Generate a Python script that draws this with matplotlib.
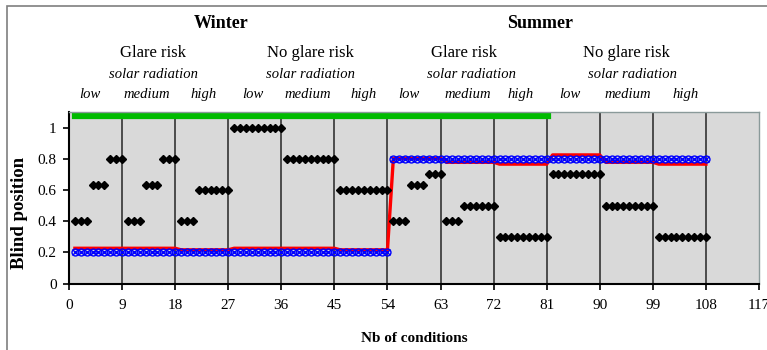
# Blind position per condition - winter / summer, glare / no glare, solar radiation levels

import numpy as np

import matplotlib
matplotlib.use('Agg')
matplotlib.rcParams['font.family'] = 'Liberation Serif'
import matplotlib.pyplot as plt
from matplotlib.patches import Rectangle
from matplotlib.transforms import blended_transform_factory

# condition number 1..108
conditions = np.arange(1, 109)

# measured blind positions (black diamonds), 9 conditions per row
measured = [
    0.4, 0.4, 0.4, 0.63, 0.63, 0.63, 0.8, 0.8, 0.8,
    0.4, 0.4, 0.4, 0.63, 0.63, 0.63, 0.8, 0.8, 0.8,
    0.4, 0.4, 0.4, 0.6, 0.6, 0.6, 0.6, 0.6, 0.6,
    1.0, 1.0, 1.0, 1.0, 1.0, 1.0, 1.0, 1.0, 1.0,
    0.8, 0.8, 0.8, 0.8, 0.8, 0.8, 0.8, 0.8, 0.8,
    0.6, 0.6, 0.6, 0.6, 0.6, 0.6, 0.6, 0.6, 0.6,
    0.4, 0.4, 0.4, 0.63, 0.63, 0.63, 0.7, 0.7, 0.7,
    0.4, 0.4, 0.4, 0.5, 0.5, 0.5, 0.5, 0.5, 0.5,
    0.3, 0.3, 0.3, 0.3, 0.3, 0.3, 0.3, 0.3, 0.3,
    0.7, 0.7, 0.7, 0.7, 0.7, 0.7, 0.7, 0.7, 0.7,
    0.5, 0.5, 0.5, 0.5, 0.5, 0.5, 0.5, 0.5, 0.5,
    0.3, 0.3, 0.3, 0.3, 0.3, 0.3, 0.3, 0.3, 0.3,
]

# blue x-circles
target = [
    0.2, 0.2, 0.2, 0.2, 0.2, 0.2, 0.2, 0.2, 0.2,
    0.2, 0.2, 0.2, 0.2, 0.2, 0.2, 0.2, 0.2, 0.2,
    0.2, 0.2, 0.2, 0.2, 0.2, 0.2, 0.2, 0.2, 0.2,
    0.2, 0.2, 0.2, 0.2, 0.2, 0.2, 0.2, 0.2, 0.2,
    0.2, 0.2, 0.2, 0.2, 0.2, 0.2, 0.2, 0.2, 0.2,
    0.2, 0.2, 0.2, 0.2, 0.2, 0.2, 0.2, 0.2, 0.2,
    0.8, 0.8, 0.8, 0.8, 0.8, 0.8, 0.8, 0.8, 0.8,
    0.8, 0.8, 0.8, 0.8, 0.8, 0.8, 0.8, 0.8, 0.8,
    0.8, 0.8, 0.8, 0.8, 0.8, 0.8, 0.8, 0.8, 0.8,
    0.8, 0.8, 0.8, 0.8, 0.8, 0.8, 0.8, 0.8, 0.8,
    0.8, 0.8, 0.8, 0.8, 0.8, 0.8, 0.8, 0.8, 0.8,
    0.8, 0.8, 0.8, 0.8, 0.8, 0.8, 0.8, 0.8, 0.8,
]

# red line
model = [
    0.227, 0.227, 0.227, 0.227, 0.227, 0.227, 0.227, 0.227, 0.227,
    0.227, 0.227, 0.227, 0.227, 0.227, 0.227, 0.227, 0.227, 0.227,
    0.217, 0.217, 0.217, 0.217, 0.217, 0.217, 0.217, 0.217, 0.217,
    0.227, 0.227, 0.227, 0.227, 0.227, 0.227, 0.227, 0.227, 0.227,
    0.227, 0.227, 0.227, 0.227, 0.227, 0.227, 0.227, 0.227, 0.227,
    0.217, 0.217, 0.217, 0.217, 0.217, 0.217, 0.217, 0.217, 0.217,
    0.803, 0.803, 0.803, 0.803, 0.803, 0.803, 0.803, 0.803, 0.803,
    0.778, 0.778, 0.778, 0.778, 0.778, 0.778, 0.778, 0.778, 0.778,
    0.766, 0.766, 0.766, 0.766, 0.766, 0.766, 0.766, 0.766, 0.766,
    0.825, 0.825, 0.825, 0.825, 0.825, 0.825, 0.825, 0.825, 0.825,
    0.778, 0.778, 0.778, 0.778, 0.778, 0.778, 0.778, 0.778, 0.778,
    0.766, 0.766, 0.766, 0.766, 0.766, 0.766, 0.766, 0.766, 0.766,
]

# green bar (glare risk period), conditions
green_span = [1, 81]
green_level = 1.078

xticks = list(range(0, 118, 9))
yticks = [0, 0.2, 0.4, 0.6, 0.8, 1]
ytick_labels = ['0', '0.2', '0.4', '0.6', '0.8', '1']
separators = list(range(9, 117, 9))

seasons = ['Winter', 'Summer']
season_x = [25.8, 79.8]
risks = ['Glare risk', 'No glare risk', 'Glare risk', 'No glare risk']
risk_x = [14.3, 41.0, 66.9, 94.6]
radiation_x = [14.3, 41.0, 68.2, 95.6]
levels = ['low', 'medium', 'high'] * 4
level_x = [3.6, 13.2, 22.9, 31.1, 40.5, 50.0, 57.6, 67.6, 76.6, 85.0, 94.7, 104.6]

fig = plt.figure(figsize=(7.67, 3.5), dpi=100)

# outer frame of the chart (only left and top edges fall inside the picture)
top = 1 - 6/350
fig.patches.append(Rectangle((7/767, -0.2), 1.2, top + 0.2, transform=fig.transFigure,
                             fill=False, edgecolor='#7f7f7f', linewidth=1.2))

ax = fig.add_axes([69/767, 66.3/350, 690/767, 171.7/350])
ax.set_facecolor('#d9d9d9')
ax.set_xlim(0, 117)
ax.set_ylim(0, 1.1)

ax.vlines(separators, 0, 1.1, color='#262626', linewidth=1.1, zorder=1)
ax.plot(green_span, [green_level, green_level], color='#00bb00', linewidth=5.2,
        solid_capstyle='projecting', zorder=2)

ax.plot(conditions, model, color='red', linewidth=2.4, zorder=3)
ax.plot(conditions, target, linestyle='none', marker='o', markersize=5, markerfacecolor='none',
        markeredgecolor='#0000ff', markeredgewidth=1.0, zorder=4)
ax.plot(conditions, target, linestyle='none', marker='x', markersize=5,
        markeredgecolor='#0000ff', markeredgewidth=1.0, zorder=4)
ax.plot(conditions, measured, linestyle='none', marker='D', markersize=4.5, color='black', zorder=5)

ax.set_xticks(xticks)
ax.set_yticks(yticks)
ax.set_yticklabels(ytick_labels)
ax.tick_params(axis='x', direction='out', length=4, width=1.2, pad=7, labelsize=11)
ax.tick_params(axis='y', direction='out', length=4, width=1.2, pad=5, labelsize=11)

for side in ['left', 'bottom']:
    ax.spines[side].set_linewidth(1.5)
    ax.spines[side].set_color('black')
for side in ['top', 'right']:
    ax.spines[side].set_linewidth(1.0)
    ax.spines[side].set_color('#8a9a9a')

ax.set_ylabel('Blind position', fontsize=13.5, fontweight='bold')
ax.yaxis.set_label_coords(-0.059, 0.41)
ax.set_xlabel('Nb of conditions', fontsize=11, fontweight='bold')
ax.xaxis.set_label_coords(0.5, -0.28)

# header texts above the plot
trans = blended_transform_factory(ax.transData, fig.transFigure)
for name, x in zip(seasons, season_x):
    ax.text(x, 1 - 23/350, name, transform=trans, ha='center', va='center',
            fontsize=13, fontweight='bold', clip_on=False)
for name, x in zip(risks, risk_x):
    ax.text(x, 1 - 53/350, name, transform=trans, ha='center', va='center',
            fontsize=12, clip_on=False)
for x in radiation_x:
    ax.text(x, 1 - 75/350, 'solar radiation', transform=trans, ha='center', va='center',
            fontsize=10.5, style='italic', clip_on=False)
for name, x in zip(levels, level_x):
    ax.text(x, 1 - 95/350, name, transform=trans, ha='center', va='center',
            fontsize=10.5, style='italic', clip_on=False)

plt.savefig('out.png', dpi=100)
plt.close(fig)
